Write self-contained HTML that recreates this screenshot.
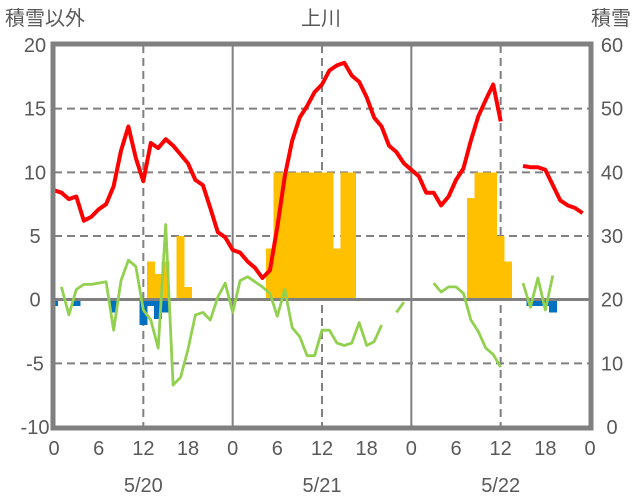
<!DOCTYPE html>
<html><head><meta charset="utf-8"><style>
html,body{margin:0;padding:0;background:#fff;}
svg{display:block;font-family:"Liberation Sans","Noto Sans CJK JP",sans-serif;}
text{fill:#595959;font-size:20px;}
</style></head><body>
<svg id="chart" width="636" height="501">
<g id="grid"></g><g id="bars" shape-rendering="crispEdges"></g><g id="lines"></g><g id="frame"></g><g id="labels"></g>
</svg>
<script>
const hours = Array.from({length:72},(_,i)=>i);
const temperature = [8.6,8.4,7.9,8.1,6.2,6.5,7.1,7.5,8.9,11.7,13.6,11.1,9.3,12.3,11.9,12.6,12.1,11.4,10.7,9.4,9.0,7.2,5.3,4.9,
3.9,3.7,3.0,2.5,1.7,2.3,5.7,9.7,12.5,14.3,15.2,16.3,16.9,18.0,18.4,18.6,17.6,17.1,15.9,14.3,13.6,12.1,11.6,10.7,
10.2,9.7,8.4,8.4,7.4,8.1,9.4,10.3,12.5,14.4,15.7,16.9,14.0,null,null,10.5,10.4,10.4,10.2,9.0,7.8,7.4,7.2,6.8];
const greenSeries = [null,1.0,-1.2,0.8,1.2,1.2,1.3,1.4,-2.4,1.5,3.1,2.6,-0.8,-1.6,-3.8,5.9,-6.7,-6.1,-3.9,-1.2,-1.0,-1.6,0.2,1.3,
-1.0,1.5,1.8,1.4,1.0,0.5,-1.3,0.8,-2.2,-2.9,-4.4,-4.4,-2.4,-2.4,-3.4,-3.6,-3.4,-1.8,-3.6,-3.3,-2.0,null,-1.0,-0.2,
null,null,null,1.3,0.6,1.0,1.0,0.5,-1.6,-2.5,-3.8,-4.3,-5.3,null,null,1.3,-0.6,1.7,-0.8,1.9,null,null,null,null];
const yellowBars = [0,0,0,0,0,0,0,0,0,0,0,0,0,3,2,3,0,5,1,0,0,0,0,0,
0,0,0,0,0,4,10,10,10,10,10,10,10,10,4,10,10,0,0,0,0,0,0,0,
0,0,0,0,0,0,0,0,8,10,10,10,5,3,0,0,0,0,0,0,0,0,0,0];
const blueBars = [-0.5,0,0,-0.5,0,0,0,0,-1.0,0,0,0,-2.0,-0.5,-1.5,-1.0,0,0,0,0,0,0,0,0,
0,0,0,0,0,0,0,0,0,0,0,0,0,0,0,0,0,0,0,0,0,0,0,0,
0,0,0,0,0,0,0,0,0,0,0,0,0,0,0,0,-0.5,-0.5,-0.5,-1.0,0,0,0,0];
const leftTicks = [20,15,10,5,0,-5,-10];
const rightTicks = [60,50,40,30,20,10,0];
const hourTicks = [0,6,12,18,24,30,36,42,48,54,60,66,72];
const hourTickLabels = ["0","6","12","18","0","6","12","18","0","6","12","18","0"];
const dates = ["5/20","5/21","5/22"];

const NS="http://www.w3.org/2000/svg";
const X0=54,X1=590,YT=45,YB=427;
const xs=h=>X0+h*(X1-X0)/72;
const ys=v=>YT+(20-v)*(YB-YT)/30;
const yr=v=>YB-v*(YB-YT)/60;
function mk(tag,attrs,parent){const e=document.createElementNS(NS,tag);for(const k in attrs)e.setAttribute(k,attrs[k]);document.getElementById(parent).appendChild(e);return e;}

[15,10,5,-5].forEach(v=>{
  const l=mk('line',{x1:X0,x2:X1,y1:ys(v),y2:ys(v),stroke:'#808080','stroke-width':2,'stroke-dasharray':'8,5'},'grid');
  
  
});
[12,36,60].forEach(h=>{
  const l=mk('line',{x1:xs(h),x2:xs(h),y1:YT,y2:YB,stroke:'#808080','stroke-width':2,'stroke-dasharray':'8,5'},'grid');
  
  
});
[24,48].forEach(h=>{
  const l=mk('line',{x1:xs(h),x2:xs(h),y1:YT,y2:YB,stroke:'#808080','stroke-width':2},'grid');
  
  
});
const bw=(X1-X0)/72;
yellowBars.forEach((v,i)=>{ if(!v) return;
  const r=mk('rect',{x:xs(i)-bw/2-0.3,y:ys(v),width:bw+0.6,height:ys(0)-ys(v),fill:'#ffc000'},'bars');
  
  
});
blueBars.forEach((v,i)=>{ if(!v) return;
  const x=Math.max(X0,xs(i)-bw/2-0.3);
  const r=mk('rect',{x:x,y:ys(0),width:xs(i)+bw/2+0.3-x,height:ys(v)-ys(0),fill:'#0070c0'},'bars');
  
  
});
const z=mk('line',{x1:X0,x2:X1,y1:ys(0),y2:ys(0),stroke:'#808080','stroke-width':3},'bars');


function drawSeries(arr,color,w,name){
  let d='',pen=false;
  arr.forEach((v,i)=>{ if(v===null){pen=false;return;} d+=(pen?'L':'M')+xs(i).toFixed(1)+','+ys(v).toFixed(1); pen=true;});
  const p=mk('path',{d:d,fill:'none',stroke:color,'stroke-width':w,'stroke-linejoin':'round'},'lines');
  
  
}
drawSeries(greenSeries,'#92d050',2.8,'green-series-line');
drawSeries(temperature,'#ff0000',4,'temperature-line');
const f=mk('rect',{x:X0-1,y:YT-1,width:X1-X0+2,height:YB-YT+2,fill:'none',stroke:'#808080','stroke-width':5},'frame');


function txt(s,x,y,anchor,name){const t=mk('text',{x:x,y:y,'text-anchor':anchor},'labels');t.textContent=s;
  
  return t;}
leftTicks.forEach(v=>txt(String(v),35,ys(v)+7,'middle','left-tick-label'));
rightTicks.forEach(v=>txt(String(v),612,yr(v)+7,'middle','right-tick-label'));
hourTicks.forEach((h,i)=>txt(hourTickLabels[i],xs(h),455,'middle','x-tick-label'));
dates.forEach((d,i)=>txt(d,xs(12+24*i),492,'middle','date-label'));
txt('積雪以外',5,25,'start','left-axis-title');
txt('積雪',631,25,'end','right-axis-title');
txt('上川',321,25,'middle','chart-title');
</script>
</body></html>
